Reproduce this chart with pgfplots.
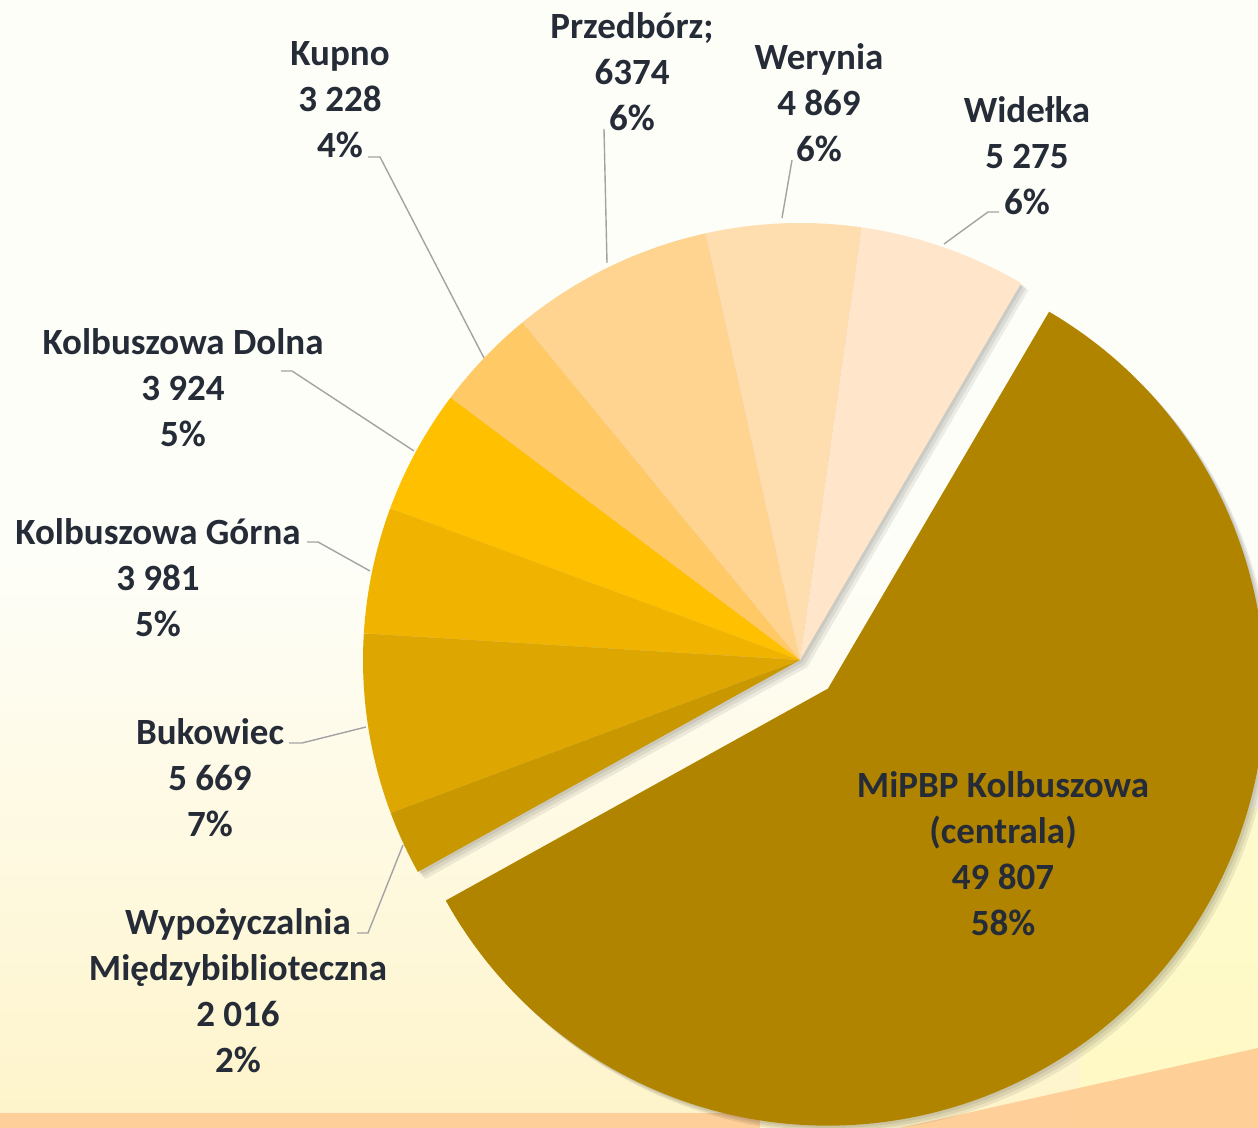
\documentclass[border=0pt]{standalone}
\usepackage{pgfplots}
\pgfplotsset{compat=1.18}
\usepackage{pgfplotstable}
\usepackage{fontspec}
\setmainfont{Carlito}
\definecolor{c0}{HTML}{B18400}
\definecolor{c1}{HTML}{C99700}
\definecolor{c2}{HTML}{DDA600}
\definecolor{c3}{HTML}{F0B400}
\definecolor{c4}{HTML}{FFC000}
\definecolor{c5}{HTML}{FFC966}
\definecolor{c6}{HTML}{FED490}
\definecolor{c7}{HTML}{FEDDAF}
\definecolor{c8}{HTML}{FFE6CA}
\definecolor{txt}{HTML}{252C37}
\definecolor{lead}{HTML}{A3A3A3}
\definecolor{bgtop}{HTML}{FEFEF8}
\definecolor{bgbot}{HTML}{FEF4CA}
\pgfplotstableread[col sep=comma]{
name,value
MiPBP Kolbuszowa (centrala),49807
Wypozyczalnia Miedzybiblioteczna,2016
Bukowiec,5669
Kolbuszowa Gorna,3981
Kolbuszowa Dolna,3924
Kupno,3228
Przedborz,6374
Werynia,4869
Widelka,5275
}\piedata
\begin{document}
\begin{tikzpicture}
% cumulative sums and slice angles (clockwise from 59.6 deg)
\gdef\cum{0}
\foreach \i in {0,...,8}{%
  \pgfplotstablegetelem{\i}{value}\of\piedata
  \expandafter\xdef\csname st\i\endcsname{\cum}%
  \xdef\cum{\fpeval{\cum+\pgfplotsretval}}%
  \expandafter\xdef\csname en\i\endcsname{\cum}%
}
\xdef\total{\cum}
\foreach \i in {0,...,8}{%
  \expandafter\xdef\csname aS\i\endcsname{\fpeval{59.6-360*\csname st\i\endcsname/\total}}%
  \expandafter\xdef\csname aE\i\endcsname{\fpeval{59.6-360*\csname en\i\endcsname/\total}}%
}
\xdef\aMid{\fpeval{(\csname aS0\endcsname+\csname aE0\endcsname)/2}}
\xdef\aGs{\csname aS1\endcsname}
\xdef\aGe{\csname aE8\endcsname}
\xdef\aMs{\csname aS0\endcsname}
\xdef\aMe{\csname aE0\endcsname}
\def\R{218.5pt}
\begin{axis}[width=629pt, height=564pt, scale only axis,
  xmin=0, xmax=1258, ymin=0, ymax=1128, hide axis, clip=true]
\coordinate (bl) at (axis cs:0,0);
\coordinate (tr) at (axis cs:1258,1128);
\coordinate (C) at (axis cs:800,468);
\path (C) ++(\aMid:20pt) coordinate (M);
% background
\fill[top color=bgtop, bottom color=bgbot, middle color=bgtop] (axis cs:0,0) rectangle (axis cs:1258,1128);
\fill[color=yellow!25!white, opacity=0.6] (axis cs:1080,0) -- (axis cs:1258,0) -- (axis cs:1258,320) -- (axis cs:1080,300) -- cycle;
\fill[color=orange!45!white, opacity=0.8] (axis cs:900,0) -- (axis cs:1258,0) -- (axis cs:1258,80) -- cycle;
\fill[color=orange!45!white, opacity=0.8] (axis cs:0,0) rectangle (axis cs:760,15);
% shadows
\fill[black, opacity=0.07] ([shift={(1.2pt,-1.2pt)}]C) -- ++(\aGs:\R) arc[start angle=\aGs, end angle=\aGe, radius=\R] -- cycle;
\fill[black, opacity=0.07] ([shift={(2.4pt,-2.4pt)}]C) -- ++(\aGs:\R) arc[start angle=\aGs, end angle=\aGe, radius=\R] -- cycle;
\fill[black, opacity=0.07] ([shift={(3.6pt,-3.6pt)}]C) -- ++(\aGs:\R) arc[start angle=\aGs, end angle=\aGe, radius=\R] -- cycle;
\fill[black, opacity=0.07] ([shift={(1.2pt,-1.2pt)}]M) -- ++(\aMs:\R) arc[start angle=\aMs, end angle=\aMe, radius=\R] -- cycle;
\fill[black, opacity=0.07] ([shift={(2.4pt,-2.4pt)}]M) -- ++(\aMs:\R) arc[start angle=\aMs, end angle=\aMe, radius=\R] -- cycle;
\fill[black, opacity=0.07] ([shift={(3.6pt,-3.6pt)}]M) -- ++(\aMs:\R) arc[start angle=\aMs, end angle=\aMe, radius=\R] -- cycle;
% exploded main slice
\fill[c0] (M) -- ++(\aMs:\R) arc[start angle=\aMs, end angle=\aMe, radius=\R] -- cycle;
% other slices
\pgfplotsinvokeforeach{1,...,8}{
  \edef\tmp{\noexpand\fill[c#1] (C) -- ++(\csname aS#1\endcsname:\noexpand\R)
     arc[start angle=\csname aS#1\endcsname, end angle=\csname aE#1\endcsname, radius=\noexpand\R] -- cycle;}
  \tmp
}
% leader lines
\addplot[lead, line width=0.7pt, no markers] coordinates {(368,971) (380,971) (484,770)};
\addplot[lead, line width=0.7pt, no markers] coordinates {(604,999) (607,865)};
\addplot[lead, line width=0.7pt, no markers] coordinates {(792,968) (782,910)};
\addplot[lead, line width=0.7pt, no markers] coordinates {(999,916) (988,916) (944,884)};
\addplot[lead, line width=0.7pt, no markers] coordinates {(281,757) (292,757) (414,677)};
\addplot[lead, line width=0.7pt, no markers] coordinates {(307,586) (318,586) (370,557)};
\addplot[lead, line width=0.7pt, no markers] coordinates {(289,385) (302,385) (366,401)};
\addplot[lead, line width=0.7pt, no markers] coordinates {(357,195) (368,195) (403,283)};
% labels
\tikzset{lbl/.style={text=txt, align=center, inner sep=0pt, font=\fontsize{18.5pt}{23pt}\selectfont\bfseries}}
\node[lbl] at (axis cs:340,1028) {Kupno\\3 228\\4\%};
\node[lbl] at (axis cs:632,1056) {Przedbórz;\\6374\\6\%};
\node[lbl] at (axis cs:819,1025) {Werynia\\4 869\\6\%};
\node[lbl] at (axis cs:1027,972) {Widełka\\5 275\\6\%};
\node[lbl] at (axis cs:183,740) {Kolbuszowa Dolna\\3 924\\5\%};
\node[lbl] at (axis cs:158,550) {Kolbuszowa Górna\\3 981\\5\%};
\node[lbl] at (axis cs:210,350) {Bukowiec\\5 669\\7\%};
\node[lbl] at (axis cs:238,137) {Wypożyczalnia\\Międzybiblioteczna\\2 016\\2\%};
\node[lbl] at (axis cs:1003,274) {MiPBP Kolbuszowa\\(centrala)\\49 807\\58\%};
\end{axis}
\pgfresetboundingbox
\useasboundingbox (bl) rectangle (tr);
\end{tikzpicture}
\end{document}
